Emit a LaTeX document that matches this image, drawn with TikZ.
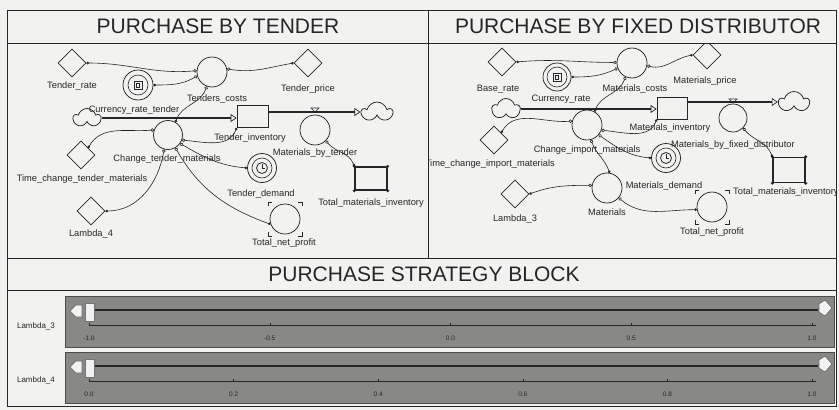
\documentclass[tikz,border=0pt]{standalone}
\usepackage{fontspec}
\setmainfont{Liberation Sans}
\usetikzlibrary{shapes.geometric,shapes.symbols,arrows.meta,positioning}

\definecolor{paper}{RGB}{242,242,240}
\definecolor{ink}{RGB}{38,38,38}
\definecolor{slidergray}{RGB}{136,136,132}

\tikzset{
  aux/.style={circle, draw=ink, line width=0.75pt, minimum size=30pt, inner sep=0pt},
  param/.style={diamond, draw=ink, line width=0.75pt, minimum width=28pt, minimum height=28pt, inner sep=0pt},
  stockbox/.style={rectangle, draw=ink, line width=0.75pt, minimum width=31pt, minimum height=22pt, inner sep=0pt},
  sinkcloud/.style={cloud, draw=ink, line width=0.75pt, cloud puffs=5, cloud ignores aspect, minimum width=27pt, minimum height=19pt, inner sep=0pt},
  lbl/.style={font=\fontsize{9.3}{10}\selectfont, text=ink, inner sep=0pt},
  paneltitle/.style={font=\fontsize{21}{24}\selectfont, text=ink, inner sep=0pt},
  link/.style={draw=ink, line width=0.6pt, arrows={Circle[length=2.6pt]-Circle[open,length=3.4pt]}},
  pipe/.style={draw=ink, line width=2pt, arrows={-Triangle[open,length=6pt,width=8pt,line width=0.7pt]}},
  sliderbox/.style={rectangle, fill=slidergray, draw=black!70, line width=1pt, minimum width=769pt, minimum height=51pt},
  thumb/.style={rectangle, fill=white!95!black, draw=black!55, line width=0.5pt, minimum width=9pt, minimum height=18pt, inner sep=0pt},
  btn/.style={fill=white!95!black, draw=black!60, line width=0.6pt},
  ticklbl/.style={font=\fontsize{6.5}{7}\selectfont, text=black!85, inner sep=0pt},
}

\begin{document}
\begin{tikzpicture}[x=1pt,y=1pt]
  % Canvas and frame
  \fill[paper] (0,0) rectangle (839,-410);
  \useasboundingbox (0,0) rectangle (839,-410);
  \draw[ink, line width=0.8pt] (7,-10) rectangle (836,-406);
  \draw[ink, line width=0.8pt] (7,-43) -- (836,-43);
  \draw[ink, line width=0.8pt] (428,-10) -- (428,-258);
  \draw[ink, line width=0.8pt] (7,-258) -- (836,-258);
  \draw[ink, line width=0.8pt] (7,-290) -- (836,-290);
  % Titles
  \node[paneltitle] (title-tender) at (218,-26) {PURCHASE BY TENDER};
  \node[paneltitle] (title-fixed) at (638,-26) {PURCHASE BY FIXED DISTRIBUTOR};
  \node[paneltitle] (title-block) at (424,-274) {PURCHASE STRATEGY BLOCK};

  % Purchase by tender
  \begin{scope}
    \clip (7,-43) rectangle (428,-258);
    \node[param] (trate) at (72,-63) {};
    \node[aux] (tcost) at (212,-72) {};
    \node[param] (tprice) at (308,-63) {};
    \node[aux] (curT) at (138,-85) {};
    \draw[ink, line width=0.6pt] (curT) circle (10pt);
    \draw[ink, line width=0.7pt] ([shift={(-4,-4)}]curT.center) rectangle ++(8,8);
    \draw[ink, line width=0.5pt] ([shift={(-2,-2)}]curT.center) rectangle ++(3.5,3.5);
    \node[sinkcloud] (cloudL1) at (87,-118) {};
    \node[stockbox] (tinv) at (252.5,-116.5) {};
    \node[aux, minimum size=29pt] (chT) at (168,-135) {};
    \node[aux] (mbt) at (315,-130) {};
    \node[sinkcloud, minimum width=30pt, minimum height=20pt] (cloudR1) at (377,-112) {};
    \draw[ink, line width=0.6pt] (311,-108) -- (319,-108) -- (315,-112) -- cycle;
    \node[param] (timeT) at (81,-155) {};
    \node[param] (lam4) at (91,-211) {};
    \node[aux, minimum size=29pt] (tdem) at (262,-168) {};
    \draw[ink, line width=0.6pt] (tdem) circle (10pt);
    \draw[ink, line width=0.8pt] (tdem) circle (5.5pt);
    \draw[ink, line width=0.8pt] (tdem.center) -- ++(0,4) (tdem.center) -- ++(3,0);
    \node[aux] (tnp) at (285,-219) {};
    \foreach \sx/\sy in {1/1,1/-1,-1/1,-1/-1}
      \draw[ink, line width=0.6pt] ([shift={(\sx*13,\sy*17)}]tnp.center) -- ++(\sx*4,0) -- ++(0,\sy*-4);
    \node[stockbox, line width=1.4pt, minimum width=32pt, minimum height=23pt] (tmi) at (371,-178.5) {};
    \foreach \c in {north west,north east,south west,south east}
      \fill[ink] (tmi.\c) circle (1.6pt);
    % Flows
    \draw[pipe] (cloudL1.east) -- (cloudL1.east -| tinv.west);
    \draw[pipe] (tinv.east |- cloudR1.west) -- (cloudR1.west);
    % Links
    \draw[link] (trate.east) to[out=0,in=185] (tcost.175);
    \draw[link] (curT.east) to[out=0,in=210] (tcost.195);
    \draw[link] (tprice.west) to[out=190,in=-10] (tcost.12);
    \draw[link] (chT.60) to[out=70,in=250] (tcost.250);
    \draw[link] (tinv.south west) to[out=-110,in=-5] (chT.-20);
    \draw[link] (timeT.north east) to[out=60,in=185] (chT.160);
    \draw[link] (lam4.east) to[out=0,in=-100] (chT.-105);
    \draw[link] (tdem.west) to[out=175,in=-30] (chT.-35);
    \draw[link] (tnp.200) to[out=160,in=-60] (chT.-60);
    \draw[link] (tmi.north west) to[out=110,in=-50] (mbt.-45);
    % Labels
    \node[lbl] (trate-l) at (72,-86) {Tender\_rate};
    \node[lbl] (curT-l) at (134,-110) {Currency\_rate\_tender};
    \node[lbl] (tcost-l) at (217,-99) {Tenders\_costs};
    \node[lbl] (tprice-l) at (308,-89) {Tender\_price};
    \node[lbl] (tinv-l) at (250,-138) {Tender\_inventory};
    \node[lbl] (mbt-l) at (315,-153) {Materials\_by\_tender};
    \node[lbl] (chT-l) at (167,-159) {Change\_tender\_materials};
    \node[lbl] (timeT-l) at (82,-179) {Time\_change\_tender\_materials};
    \node[lbl] (lam4-l) at (91,-234) {Lambda\_4};
    \node[lbl] (tdem-l) at (261,-194) {Tender\_demand};
    \node[lbl] (tnp-l) at (284,-243) {Total\_net\_profit};
    \node[lbl] (tmi-l) at (371,-203) {Total\_materials\_inventory};
  \end{scope}

  % Purchase by fixed distributor
  \begin{scope}
    \clip (428,-43) rectangle (836,-258);
    \node[param] (brate) at (502,-62) {};
    \node[aux, minimum size=28pt] (curM) at (557,-77) {};
    \draw[ink, line width=0.6pt] (curM) circle (10pt);
    \draw[ink, line width=0.7pt] ([shift={(-4,-4)}]curM.center) rectangle ++(8,8);
    \draw[ink, line width=0.5pt] ([shift={(-2,-2)}]curM.center) rectangle ++(3.5,3.5);
    \node[aux] (mcost) at (632,-63) {};
    \node[param] (mprice) at (707,-55) {};
    \node[sinkcloud, minimum width=28pt, minimum height=21pt] (cloudL2) at (506,-109) {};
    \node[stockbox, minimum width=30pt] (minv) at (672,-108) {};
    \node[aux] (chM) at (587,-125) {};
    \node[aux, minimum size=28pt] (mbf) at (733,-118) {};
    \node[sinkcloud, minimum width=30pt, minimum height=21pt] (cloudR2) at (794,-102) {};
    \draw[ink, line width=0.6pt] (729,-99) -- (737,-99) -- (733,-103) -- cycle;
    \node[param] (timeM) at (494,-140) {};
    \node[aux, minimum size=29pt] (mdem) at (666,-158) {};
    \draw[ink, line width=0.6pt] (mdem) circle (10pt);
    \draw[ink, line width=0.8pt] (mdem) circle (5.5pt);
    \draw[ink, line width=0.8pt] (mdem.center) -- ++(0,4) (mdem.center) -- ++(3,0);
    \node[aux] (mat) at (607,-188) {};
    \node[param] (lam3) at (515,-194) {};
    \node[aux] (tnp2) at (712,-207) {};
    \foreach \sx/\sy in {1/1,1/-1,-1/1,-1/-1}
      \draw[ink, line width=0.6pt] ([shift={(\sx*13,\sy*17)}]tnp2.center) -- ++(\sx*4,0) -- ++(0,\sy*-4);
    \node[stockbox, line width=1.4pt, minimum width=32pt, minimum height=25pt] (tmi2) at (789,-170) {};
    \foreach \c in {north west,north east,south west,south east}
      \fill[ink] (tmi2.\c) circle (1.6pt);
    % Flows
    \draw[pipe] (cloudL2.east) -- (cloudL2.east -| minv.west);
    \draw[pipe] (minv.east |- cloudR2.west) -- (cloudR2.west);
    % Links
    \draw[link] (brate.east) to[out=5,in=180] (mcost.178);
    \draw[link] (curM.east) to[out=0,in=205] (mcost.200);
    \draw[link] (mprice.west) to[out=190,in=-15] (mcost.-10);
    \draw[link] (chM.60) to[out=70,in=250] (mcost.245);
    \draw[link] (minv.south west) to[out=-110,in=-5] (chM.-20);
    \draw[link] (timeM.north east) to[out=60,in=185] (chM.165);
    \draw[link] (mdem.west) to[out=175,in=-35] (chM.-40);
    \draw[link] (mat.80) to[out=110,in=-70] (chM.-75);
    \draw[link] (lam3.east) to[out=20,in=180] (mat.170);
    \draw[link] (tnp2.190) to[out=180,in=-40] (mat.-40);
    \draw[link] (tmi2.north west) to[out=110,in=-50] (mbf.-45);
    % Labels
    \node[lbl] (brate-l) at (498,-89) {Base\_rate};
    \node[lbl] (curM-l) at (561,-99) {Currency\_rate};
    \node[lbl] (mcost-l) at (635,-89) {Materials\_costs};
    \node[lbl] (mprice-l) at (705,-81) {Materials\_price};
    \node[lbl] (minv-l) at (670,-128) {Materials\_inventory};
    \node[lbl] (chM-l) at (587,-150) {Change\_import\_materials};
    \node[lbl] (mbf-l) at (733,-145) {Materials\_by\_fixed\_distributor};
    \node[lbl, anchor=east] (timeM-l) at (555,-164) {Time\_change\_import\_materials};
    \node[lbl] (mdem-l) at (664,-186) {Materials\_demand};
    \node[lbl] (mat-l) at (607,-212) {Materials};
    \node[lbl] (lam3-l) at (515,-219) {Lambda\_3};
    \node[lbl] (tnp2-l) at (712,-232) {Total\_net\_profit};
    \node[lbl, anchor=west] (tmi2-l) at (733,-192) {Total\_materials\_inventory};
  \end{scope}

  % Purchase strategy sliders
  \node[sliderbox] (slider3) at (449.5,-321.5) {};
  \node[sliderbox] (slider4) at (449.5,-377.5) {};
  \node[lbl, font=\fontsize{8}{9}\selectfont] (slider3-l) at (36,-326) {Lambda\_3};
  \node[lbl, font=\fontsize{8}{9}\selectfont] (slider4-l) at (36,-380) {Lambda\_4};
  % Lambda_3 slider
  \draw[black!85, line width=1.3pt] (94,-310) -- (818,-310);
  \draw[black!85, line width=0.6pt] (89,-325) -- (816,-325);
  \node[thumb] (thumb3) at (89.5,-312) {};
  \draw[btn] (70,-311) -- (76,-305) -- (82,-305) -- (82,-317) -- (76,-317) -- cycle;
  \draw[btn] (819,-304) -- (825,-300) -- (832,-308) -- (825,-316) -- (819,-312) -- cycle;
  \foreach \v [count=\i from 0] in {-1.0,-0.5,0.0,0.5,1.0} {
    \draw[black!85, line width=0.5pt] (89+\i*180.75,-325) -- ++(0,2.5);
    \node[ticklbl] (tick3-\i) at (89+\i*180.75,-338) {\v};
  }
  % Lambda_4 slider
  \draw[black!85, line width=1.3pt] (94,-366) -- (818,-366);
  \draw[black!85, line width=0.6pt] (89,-381) -- (816,-381);
  \node[thumb] (thumb4) at (89.5,-368) {};
  \draw[btn] (70,-367) -- (76,-361) -- (82,-361) -- (82,-373) -- (76,-373) -- cycle;
  \draw[btn] (819,-360) -- (825,-356) -- (832,-364) -- (825,-372) -- (819,-368) -- cycle;
  \foreach \v [count=\i from 0] in {0.0,0.2,0.4,0.6,0.8,1.0} {
    \draw[black!85, line width=0.5pt] (89+\i*144.6,-381) -- ++(0,2.5);
    \node[ticklbl] (tick4-\i) at (89+\i*144.6,-394) {\v};
  }
\end{tikzpicture}
\end{document}
